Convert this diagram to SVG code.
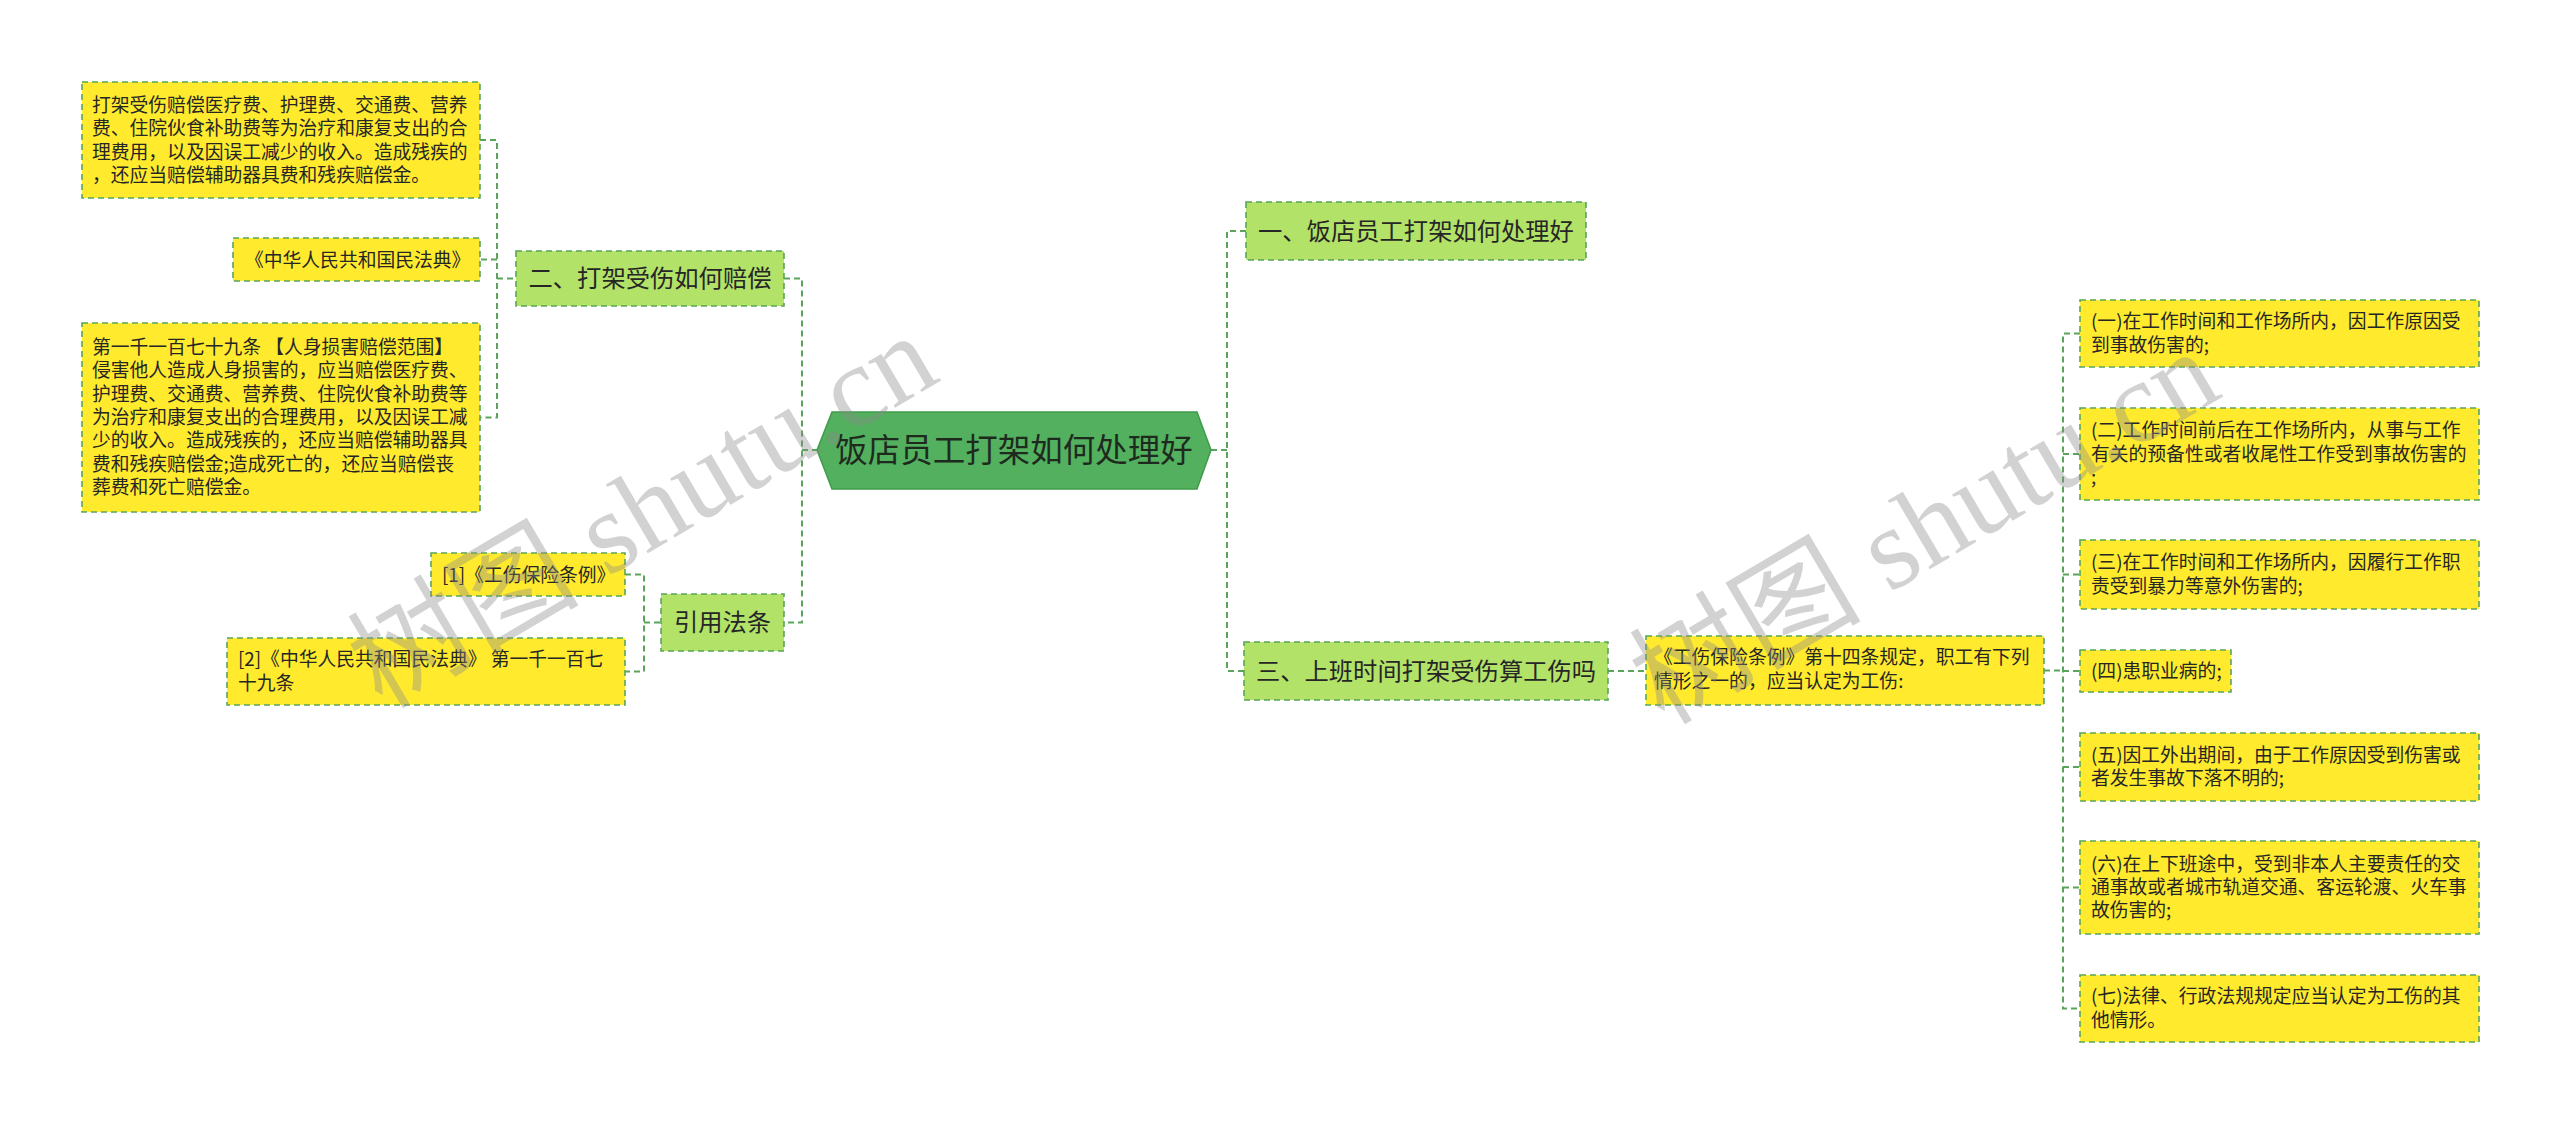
<svg xmlns="http://www.w3.org/2000/svg" width="2560" height="1124" viewBox="0 0 2560 1124">
<style>
  .conn { fill: none; stroke: #5aa55a; stroke-width: 2; stroke-dasharray: 6 4; }
  .leaf { fill: #ffea2e; stroke: #5aa55a; stroke-width: 1.6; stroke-dasharray: 6 4; }
  .sub { fill: #b2e268; stroke: #5aa55a; stroke-width: 1.6; stroke-dasharray: 6 4; }
  .root { fill: #52b05e; stroke: #3f9c4b; stroke-width: 1.5; }
  .t { font-family: "Noto Sans CJK SC", "Noto Sans", sans-serif; font-size: 18.8px; fill: #262626; }
  .ts { font-family: "Noto Sans CJK SC", "Noto Sans", sans-serif; font-size: 24.3px; fill: #262626; text-anchor: middle; }
  .tr { font-family: "Noto Sans CJK SC", "Noto Sans", sans-serif; font-size: 32.5px; fill: #1f2a1f; text-anchor: middle; }
  .wm { font-family: "Liberation Serif", "Noto Sans CJK SC", serif; font-size: 116px; fill: #8a8a8a; opacity: 0.38; }
</style>

<g id="connectors">
  <path class="conn" d="M480 140 H497 V417.5 H480 M497 259.5 H480 M497 278.5 H516"/>
  <path class="conn" d="M625 574.5 H644 V671.5 H625 M644 622.5 H661"/>
  <path class="conn" d="M784 278.5 H802 V622.5 H784 M802 450 H817"/>
  <path class="conn" d="M1211 450 H1227 M1246 231 H1227 V671 H1244"/>
  <path class="conn" d="M1608 671 H1646"/>
  <path class="conn" d="M2044 670.5 H2063 M2080 333.5 H2063 V1008.5 H2080 M2063 454 H2080 M2063 574.5 H2080 M2063 671 H2080 M2063 767 H2080 M2063 887.5 H2080"/>
</g>

<g id="root">
  <polygon class="root" points="817,450 832,412 1197,412 1211,450 1197,489 832,489"/>
  <text class="tr" x="1014" y="461.5">饭店员工打架如何处理好</text>
</g>

<g id="n-er">
  <rect class="sub" x="516" y="251" width="268" height="55"/>
  <text class="ts" x="650" y="287">二、打架受伤如何赔偿</text>
</g>

<g id="n-er-1">
  <rect class="leaf" x="82" y="82" width="398" height="116"/>
  <text class="t" x="92" y="111.5">打架受伤赔偿医疗费、护理费、交通费、营养</text>
  <text class="t" x="92" y="135">费、住院伙食补助费等为治疗和康复支出的合</text>
  <text class="t" x="92" y="158.5">理费用，以及因误工减少的收入。造成残疾的</text>
  <text class="t" x="92" y="182">，还应当赔偿辅助器具费和残疾赔偿金。</text>
</g>

<g id="n-er-2">
  <rect class="leaf" x="233" y="238" width="247" height="43"/>
  <text class="t" x="245" y="266.5">《中华人民共和国民法典》</text>
</g>

<g id="n-er-3">
  <rect class="leaf" x="82" y="323" width="398" height="189"/>
  <text class="t" x="92" y="353.8">第一千一百七十九条 【人身损害赔偿范围】</text>
  <text class="t" x="92" y="377.2">侵害他人造成人身损害的，应当赔偿医疗费、</text>
  <text class="t" x="92" y="400.6">护理费、交通费、营养费、住院伙食补助费等</text>
  <text class="t" x="92" y="424">为治疗和康复支出的合理费用，以及因误工减</text>
  <text class="t" x="92" y="447.4">少的收入。造成残疾的，还应当赔偿辅助器具</text>
  <text class="t" x="92" y="470.8">费和残疾赔偿金;造成死亡的，还应当赔偿丧</text>
  <text class="t" x="92" y="494.2">葬费和死亡赔偿金。</text>
</g>

<g id="n-yin">
  <rect class="sub" x="661" y="594" width="123" height="57"/>
  <text class="ts" x="722.5" y="631">引用法条</text>
</g>

<g id="n-yin-1">
  <rect class="leaf" x="431" y="553" width="194" height="43"/>
  <text class="t" x="442" y="581.5">[1]《工伤保险条例》</text>
</g>

<g id="n-yin-2">
  <rect class="leaf" x="227" y="638" width="398" height="67"/>
  <text class="t" x="238" y="666.3">[2]《中华人民共和国民法典》 第一千一百七</text>
  <text class="t" x="238" y="689.7">十九条</text>
</g>

<g id="n-yi">
  <rect class="sub" x="1246" y="202" width="340" height="58"/>
  <text class="ts" x="1416" y="239.5">一、饭店员工打架如何处理好</text>
</g>

<g id="n-san">
  <rect class="sub" x="1244" y="642" width="364" height="58"/>
  <text class="ts" x="1426" y="679.5">三、上班时间打架受伤算工伤吗</text>
</g>

<g id="n-san-1">
  <rect class="leaf" x="1646" y="636" width="398" height="69"/>
  <text class="t" x="1654" y="664.3">《工伤保险条例》第十四条规定，职工有下列</text>
  <text class="t" x="1654" y="687.7">情形之一的，应当认定为工伤:</text>
</g>

<g id="item-1">
  <rect class="leaf" x="2080" y="300" width="399" height="67"/>
  <text class="t" x="2091" y="328.3">(一)在工作时间和工作场所内，因工作原因受</text>
  <text class="t" x="2091" y="351.7">到事故伤害的;</text>
</g>

<g id="item-2">
  <rect class="leaf" x="2080" y="408" width="399" height="92"/>
  <text class="t" x="2091" y="437.1">(二)工作时间前后在工作场所内，从事与工作</text>
  <text class="t" x="2091" y="460.5">有关的预备性或者收尾性工作受到事故伤害的</text>
  <text class="t" x="2091" y="483.9">;</text>
</g>

<g id="item-3">
  <rect class="leaf" x="2080" y="540" width="399" height="69"/>
  <text class="t" x="2091" y="569.3">(三)在工作时间和工作场所内，因履行工作职</text>
  <text class="t" x="2091" y="592.7">责受到暴力等意外伤害的;</text>
</g>

<g id="item-4">
  <rect class="leaf" x="2080" y="650" width="151" height="42"/>
  <text class="t" x="2091" y="677.5">(四)患职业病的;</text>
</g>

<g id="item-5">
  <rect class="leaf" x="2080" y="733" width="399" height="68"/>
  <text class="t" x="2091" y="761.8">(五)因工外出期间，由于工作原因受到伤害或</text>
  <text class="t" x="2091" y="785.2">者发生事故下落不明的;</text>
</g>

<g id="item-6">
  <rect class="leaf" x="2080" y="841" width="399" height="93"/>
  <text class="t" x="2091" y="870.6">(六)在上下班途中，受到非本人主要责任的交</text>
  <text class="t" x="2091" y="894">通事故或者城市轨道交通、客运轮渡、火车事</text>
  <text class="t" x="2091" y="917.4">故伤害的;</text>
</g>

<g id="item-7">
  <rect class="leaf" x="2080" y="975" width="399" height="67"/>
  <text class="t" x="2091" y="1003.3">(七)法律、行政法规规定应当认定为工伤的其</text>
  <text class="t" x="2091" y="1026.7">他情形。</text>
</g>

<g id="watermark">
  <text class="wm" transform="translate(382,710) rotate(-30.5)">树图 shutu.cn</text>
  <text class="wm" transform="translate(1664,726) rotate(-30.5)">树图 shutu.cn</text>
</g>
</svg>
